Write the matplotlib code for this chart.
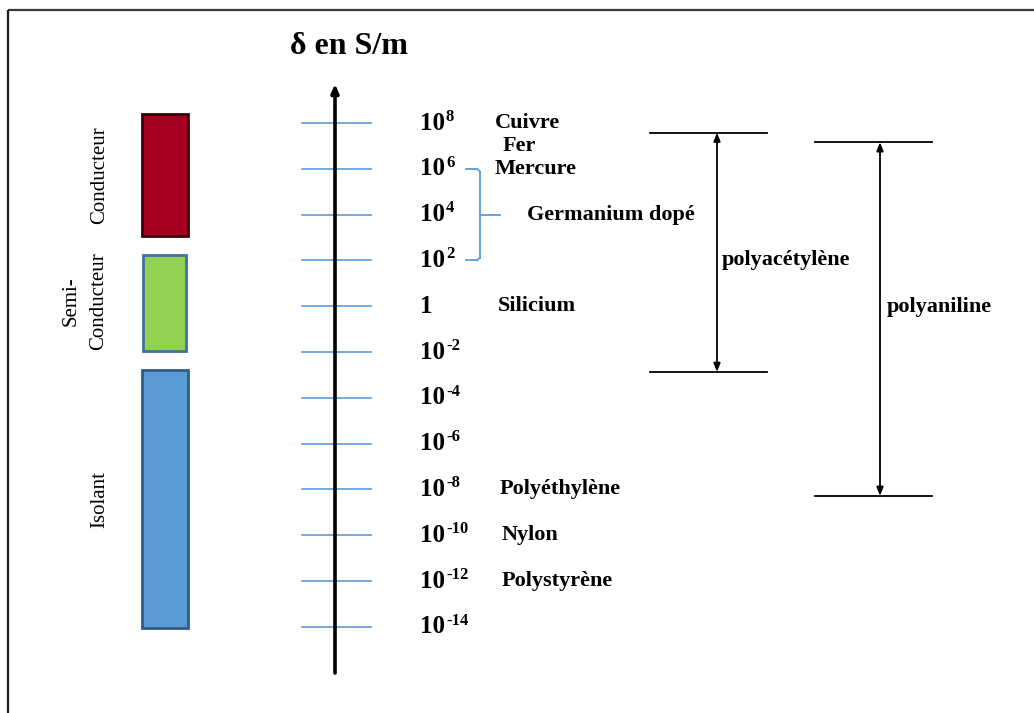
import matplotlib
matplotlib.use("Agg")
import matplotlib.pyplot as plt
from matplotlib.patches import Rectangle

# ---- data ----
tick_exponents = [8, 6, 4, 2, 0, -2, -4, -6, -8, -10, -12, -14]
tick_bases = ["10", "10", "10", "10", "1", "10", "10", "10", "10", "10", "10", "10"]
tick_sups = ["8", "6", "4", "2", "", "-2", "-4", "-6", "-8", "-10", "-12", "-14"]

materials = ["Cuivre", "Fer", "Mercure", "Germanium dopé", "Silicium",
             "Polyéthylène", "Nylon", "Polystyrène"]
material_exponents = [8, 7, 6, 4, 0, -8, -10, -12]

classes = ["Conducteur", "Semi-\nConducteur", "Isolant"]
class_low = [3.07, -1.96, -14.05]
class_high = [8.39, 2.24, -2.79]
class_colors = ["#a50021", "#92d050", "#5b9bd5"]
class_edges = ["#3a0008", "#41719c", "#2e5b87"]

germanium_range = [2, 6]

polymers = ["polyacétylène", "polyaniline"]
polymer_low = [-2.87, -8.28]
polymer_high = [7.58, 7.16]

axis_title = "δ en S/m"

# ---- layout ----
W, H = 1034, 713
px_per_dec = 22.9
y0 = 306.2
def e_of(py):
    return (y0 - py) / px_per_dec

fig = plt.figure(figsize=(W / 100, H / 100), dpi=100)
ax = fig.add_axes([0, 0, 1, 1])
ax.set_xlim(0, W)
ax.set_ylim(e_of(H), e_of(0))
ax.axis("off")

serif = "Liberation Serif"

# frame (top and left lines)
ax.plot([8, W], [e_of(10), e_of(10)], color="#3a3a3a", lw=1.6, solid_capstyle="butt")
ax.plot([8, 8], [e_of(10), e_of(H)], color="#1a1a1a", lw=1.6, solid_capstyle="butt")

# title
ax.text(349, e_of(47), axis_title, fontfamily=serif, fontweight="bold",
        fontsize=23, ha="center", va="center")

# main vertical axis with arrow
ax.annotate("", xy=(335, e_of(84)), xytext=(335, e_of(673)),
            arrowprops=dict(arrowstyle="-|>,head_length=0.5,head_width=0.22",
                            color="black", lw=2.6, shrinkA=0, shrinkB=0))

# ticks + labels
for e, b, s in zip(tick_exponents, tick_bases, tick_sups):
    ax.plot([302, 371], [e, e], color="#5b9bd5", lw=1.2, zorder=1)
    t = ax.text(420, e, b, fontfamily=serif, fontweight="bold", fontsize=18,
                ha="left", va="center")
    if s:
        ax.annotate(s, xy=(1, 0.42), xycoords=t, xytext=(1, 0),
                    textcoords="offset pixels",
                    fontfamily=serif, fontweight="bold", fontsize=12,
                    ha="left", va="bottom")

# material labels
mat_x = [495, 503, 495, 527, 498, 500, 502, 502]
for name, e, x in zip(materials, material_exponents, mat_x):
    ax.text(x, e, name, fontfamily=serif, fontweight="bold", fontsize=16,
            ha="left", va="center")

# brace for Germanium dopé
gl, gh = germanium_range
bc = "#5b9bd5"
ax.plot([466, 477], [gh, gh], color=bc, lw=1.3)
ax.plot([466, 477], [gl, gl], color=bc, lw=1.3)
ax.plot([480, 480], [gl + 0.12, gh - 0.12], color=bc, lw=1.3)
ax.plot([477, 480], [gh, gh - 0.12], color=bc, lw=1.3)
ax.plot([477, 480], [gl, gl + 0.12], color=bc, lw=1.3)
ax.plot([480, 500], [(gl + gh) / 2, (gl + gh) / 2], color=bc, lw=1.3)

# class boxes
box_x = [142, 143, 142]
box_w = [46, 43, 46]
for lo, hi, c, ec, x, w in zip(class_low, class_high, class_colors, class_edges, box_x, box_w):
    ax.add_patch(Rectangle((x, lo), w, hi - lo, facecolor=c, edgecolor=ec, lw=2.0))

# class labels (rotated)
label_x = [100, 85, 100]
for name, lo, hi, x in zip(classes, class_low, class_high, label_x):
    ax.text(x, (lo + hi) / 2 + (0.1 if "Semi" in name else 0), name, fontfamily=serif,
            fontsize=15, rotation=90, ha="center", va="center",
            multialignment="center", linespacing=1.6)

# polymer ranges
poly_lines = [(650, 767), (815, 932)]
poly_arrow_x = [717, 880]
poly_label_x = [722, 887]
poly_label_e = [e_of(260), e_of(307)]
for name, lo, hi, (xl, xr), xa, xt, et in zip(polymers, polymer_low, polymer_high,
                                              poly_lines, poly_arrow_x, poly_label_x, poly_label_e):
    ax.plot([xl, xr], [hi, hi], color="black", lw=1.3)
    ax.plot([xl, xr], [lo, lo], color="black", lw=1.3)
    ax.annotate("", xy=(xa, hi), xytext=(xa, lo),
                arrowprops=dict(arrowstyle="<|-|>,head_length=0.5,head_width=0.2",
                                color="black", lw=1.3, shrinkA=0, shrinkB=0))
    ax.text(xt, et, name, fontfamily=serif, fontweight="bold", fontsize=16,
            ha="left", va="center")

fig.savefig("out.png", dpi=100, facecolor="white")
